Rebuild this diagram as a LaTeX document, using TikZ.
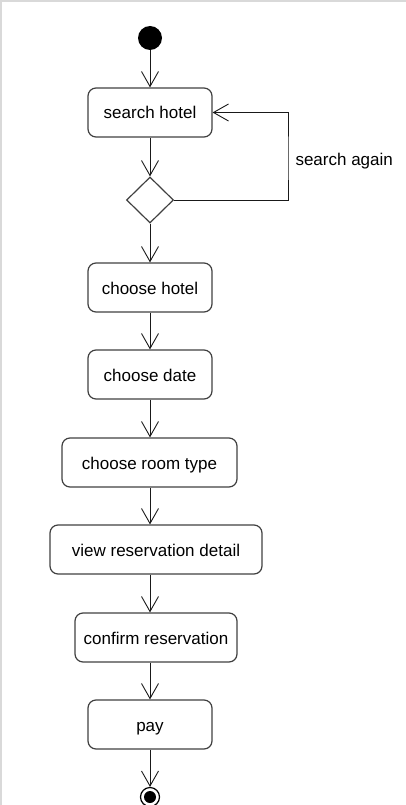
\documentclass[tikz,border=0pt]{standalone}
\usepackage{fontspec}
\setmainfont{Liberation Sans}
\usetikzlibrary{shapes.geometric, arrows.meta}

\tikzset{
  action/.style={draw=black!75, line width=1.2pt, rounded corners=8pt, minimum height=49pt,
    inner sep=0pt, text height=15pt, text depth=2pt, font=\fontsize{17}{20}\selectfont},
  flow/.style={draw=black!90, line width=0.9pt, -{Straight Barb[length=15pt,width=17pt]}},
}

\begin{document}
\begin{tikzpicture}[x=1pt, y=-1pt]
    \useasboundingbox (0,0) rectangle (406,805);
    \draw[black!15, line width=1.5pt] (1,805) -- (1,1) -- (406,1);

    \node[circle, fill=black, minimum size=24pt, inner sep=0pt] (start) at (150,38) {};
    \node[action, minimum width=124pt] (search) at (150,112.5) {search hotel};
    \node[diamond, draw=black!75, line width=1.2pt, minimum width=47pt, minimum height=46pt, inner sep=0pt] (branch) at (150,200) {};
    \node[action, minimum width=124pt] (hotel) at (150,287.5) {choose hotel};
    \node[action, minimum width=124pt] (date) at (150,374.5) {choose date};
    \node[action, minimum width=175pt] (room) at (149.5,462.5) {choose room type};
    \node[action, minimum width=212pt] (detail) at (156,549.5) {view reservation detail};
    \node[action, minimum width=162pt] (confirm) at (156,637.5) {confirm reservation};
    \node[action, minimum width=124pt] (pay) at (150,724.5) {pay};
    \node[circle, draw, fill=white, line width=1.2pt, minimum size=19pt, inner sep=0pt] (finish) at (150,797) {};
    \node[circle, fill=black, minimum size=12pt, inner sep=0pt] (finishdot) at (finish) {};

    \coordinate (back) at (288,160);
    \node[anchor=west, font=\fontsize{17}{20}\selectfont] (again) at (292,161) {search again};

    \draw[flow] (start) -- (search);
    \draw[flow] (search) -- (branch);
    \draw[flow] (branch.east) -| (back) |- (search.east);
    \draw[flow] (branch) -- (hotel);
    \draw[flow] (hotel) -- (date);
    \draw[flow] (date) -- (room.north -| date);
    \draw[flow] (room.south -| date) -- (detail.north -| date);
    \draw[flow] (detail.south -| date) -- (confirm.north -| date);
    \draw[flow] (confirm.south -| date) -- (pay);
    \draw[flow] (pay) -- (finish);

  \end{tikzpicture}
\end{document}
